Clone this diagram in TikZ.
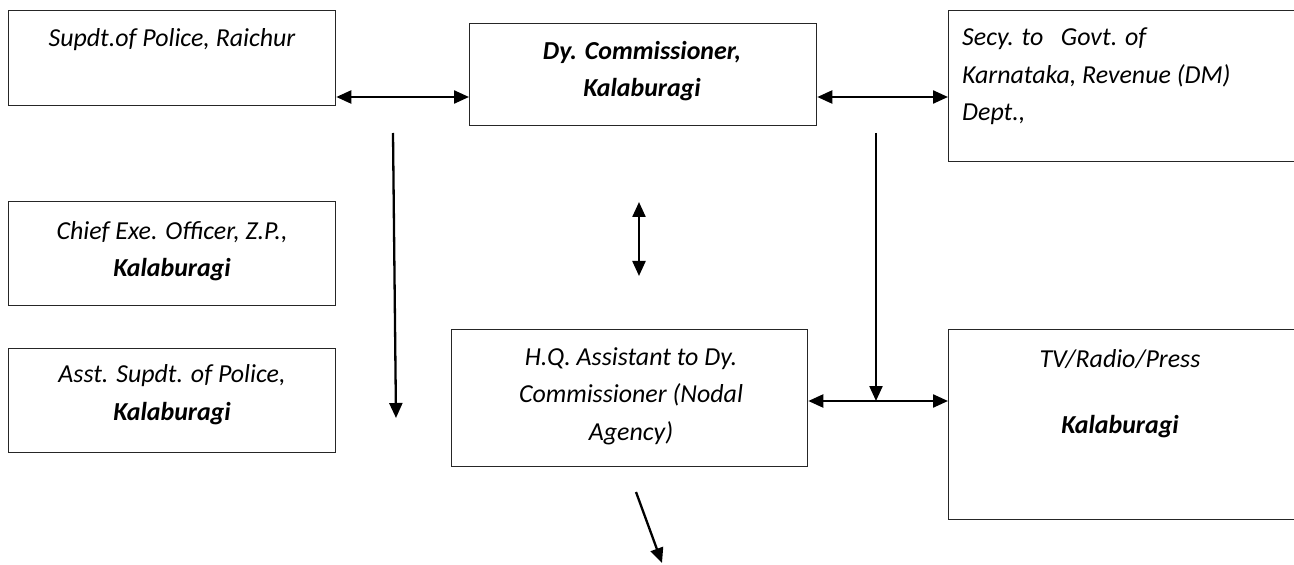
\documentclass[tikz,border=0pt]{standalone}
\usepackage{fontspec}
\setmainfont{Carlito}
\usetikzlibrary{arrows.meta,calc}
\begin{document}
\begin{tikzpicture}[x=1bp,y=-1bp,
  box/.style={draw=black!85, line width=1.3bp, inner sep=0pt, anchor=north west},
  txt/.style={font=\fontsize{26}{38}\selectfont\itshape, align=center, inner sep=0pt, anchor=base},
  conn/.style={line width=2.3bp, -{Triangle[length=15bp,width=13bp]}},
  biconn/.style={line width=2.3bp, {Triangle[length=15bp,width=13bp]}-{Triangle[length=15bp,width=13bp]}}
]
\useasboundingbox (0,0) rectangle (1294,565);
% boxes
\node[box, minimum width=327bp, minimum height=95bp]  (b1) at (8,10) {};
\node[box, minimum width=347bp, minimum height=102bp] (b2) at (469,23) {};
\node[box, minimum width=400bp, minimum height=151bp] (b3) at (948,10) {};
\node[box, minimum width=327bp, minimum height=104bp] (b4) at (8,201) {};
\node[box, minimum width=327bp, minimum height=104bp] (b5) at (8,348) {};
\node[box, minimum width=356bp, minimum height=137bp] (b6) at (451,329) {};
\node[box, minimum width=400bp, minimum height=190bp] (b7) at (948,329) {};
% texts (anchor = baseline of last line)
\node[txt] (t1) at (172,47) {Supdt.of Police, Raichur};
\node[txt, font=\fontsize{26}{38}\selectfont\bfseries\itshape] (t2) at (642,97) {Dy. Commissioner,\\Kalaburagi};
\node[txt, align=left, anchor=base west] (t3) at (962,121) {Secy. to\ \ \ Govt. of\\Karnataka, Revenue (DM)\\Dept.,};
\node[txt] (t4) at (172,277) {Chief Exe. Officer, Z.P.,\\\textbf{Kalaburagi}};
\node[txt] (t5) at (172,420) {Asst. Supdt. of Police,\\\textbf{Kalaburagi}};
\node[txt, font=\fontsize{26}{37.5}\selectfont\itshape] (t6) at (631,440) {H.Q. Assistant to Dy.\\Commissioner (Nodal\\Agency)};
\node[txt] (t7) at (1120,433) {TV/Radio/Press\\[28bp]\textbf{Kalaburagi}};
% helper coordinates
\coordinate (ytop) at (0,97);
\coordinate (ymid) at (0,401);
\coordinate (l1s) at (393,133);
\coordinate (l1e) at (396,418);
\coordinate (m1) at (639,202);
\coordinate (m2) at (639,276);
\coordinate (r1) at (876,133);
\coordinate (d1) at (636,492);
\coordinate (d2) at (662,563);
% connectors
\draw[biconn] (b1.east |- ytop) -- (b2.west |- ytop);
\draw[biconn] (b2.east |- ytop) -- (b3.west |- ytop);
\draw[conn] (l1s) -- (l1e);
\draw[biconn] (m1) -- (m2);
\draw[biconn] (b6.east |- ymid) -- (b7.west |- ymid);
\draw[conn] (r1) -- (r1 |- ymid);
\draw[conn] (d1) -- (d2);
\end{tikzpicture}
\end{document}
